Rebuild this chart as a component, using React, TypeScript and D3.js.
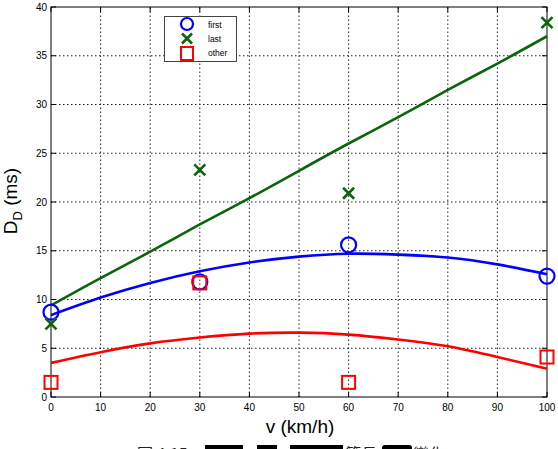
import * as d3 from 'd3';

// speed samples (km/h) and measured delays per packet class
const speeds = [0, 30, 60, 100];
const firstDelay = [8.7, 11.8, 15.6, 12.4];
const lastDelay = [7.5, 23.3, 20.9, 38.4];
const otherDelay = [1.5, 11.7, 1.5, 4.1];

// fitted trend curves, sampled every 10 km/h
const fitSpeeds = [0, 10, 20, 30, 40, 50, 60, 70, 80, 90, 100];
const firstFit = [8.4, 10.2, 11.7, 12.9, 13.8, 14.4, 14.7, 14.6, 14.3, 13.6, 12.6];
const lastFit = [9.4, 12.2, 14.9, 17.7, 20.4, 23.2, 26.0, 28.7, 31.5, 34.2, 37.0];
const otherFit = [3.5, 4.6, 5.5, 6.1, 6.5, 6.6, 6.4, 5.9, 5.2, 4.1, 2.9];

const xTicks = [0, 10, 20, 30, 40, 50, 60, 70, 80, 90, 100];
const yTicks = [0, 5, 10, 15, 20, 25, 30, 35, 40];
const legendLabels = ['first', 'last', 'other'];

const BLUE = '#0000ff';
const GREEN = '#0b650b';
const RED = '#ff0000';
const FONT = '"Liberation Sans", Arial, Helvetica, sans-serif';

const width = 558;
const height = 449;
const margin = { top: 7, right: 11, bottom: 52, left: 51 };

export default function App() {
  const x = d3.scaleLinear().domain([0, 100]).range([margin.left, width - margin.right]);
  const y = d3.scaleLinear().domain([0, 40]).range([height - margin.bottom, margin.top]);
  const x0 = x(0);
  const x1 = x(100);
  const y0 = y(0);
  const y1 = y(40);

  const fitLine = d3
    .line<[number, number]>()
    .x((d) => x(d[0]))
    .y((d) => y(d[1]))
    .curve(d3.curveNatural);
  const pairs = (vals: number[]) => fitSpeeds.map((s, i) => [s, vals[i]] as [number, number]);

  const cross = (cx: number, cy: number, r: number, color: string, w: number, key: string) => (
    <g key={key} stroke={color} strokeWidth={w} strokeLinecap="butt">
      <line x1={cx - r} y1={cy - r} x2={cx + r} y2={cy + r} />
      <line x1={cx - r} y1={cy + r} x2={cx + r} y2={cy - r} />
    </g>
  );

  const gridDash = '1.5 2.5';

  return (
    <svg
      width={width}
      height={height}
      style={{ position: 'absolute', left: 0, top: 0, background: '#fff' }}
      fontFamily={FONT}
    >
      <rect x={0} y={0} width={width} height={height} fill="#fff" />

      {/* grid */}
      {xTicks.slice(1, -1).map((t) => (
        <line key={`gx-${t}`} x1={x(t)} x2={x(t)} y1={y0} y2={y1} stroke="#222" strokeWidth={1} strokeDasharray={gridDash} />
      ))}
      {yTicks.slice(1, -1).map((t) => (
        <line key={`gy-${t}`} x1={x0} x2={x1} y1={y(t)} y2={y(t)} stroke="#222" strokeWidth={1} strokeDasharray={gridDash} />
      ))}

      {/* axes box with inward ticks */}
      <rect x={x0} y={y1} width={x1 - x0} height={y0 - y1} fill="none" stroke="#000" strokeWidth={1} />
      {xTicks.map((t) => (
        <g key={`tx-${t}`} stroke="#000">
          <line x1={x(t)} x2={x(t)} y1={y0} y2={y0 - 5} />
          <line x1={x(t)} x2={x(t)} y1={y1} y2={y1 + 5} />
        </g>
      ))}
      {yTicks.map((t) => (
        <g key={`ty-${t}`} stroke="#000">
          <line x1={x0} x2={x0 + 5} y1={y(t)} y2={y(t)} />
          <line x1={x1} x2={x1 - 5} y1={y(t)} y2={y(t)} />
        </g>
      ))}
      {xTicks.map((t) => (
        <text key={`lx-${t}`} x={x(t)} y={y0 + 14} textAnchor="middle" fontSize={10}>
          {t}
        </text>
      ))}
      {yTicks.map((t) => (
        <text key={`ly-${t}`} x={x0 - 4} y={y(t) + 3.5} textAnchor="end" fontSize={10}>
          {t}
        </text>
      ))}

      {/* fitted curves */}
      <path d={fitLine(pairs(lastFit)) ?? undefined} fill="none" stroke={GREEN} strokeWidth={2.6} />
      <path d={fitLine(pairs(firstFit)) ?? undefined} fill="none" stroke={BLUE} strokeWidth={2.6} />
      <path d={fitLine(pairs(otherFit)) ?? undefined} fill="none" stroke={RED} strokeWidth={2.6} />

      {/* measured points */}
      {speeds.map((s, i) => (
        <circle key={`c-${s}`} cx={x(s)} cy={y(firstDelay[i])} r={7.5} fill="none" stroke={BLUE} strokeWidth={2.2} />
      ))}
      {speeds.map((s, i) => cross(x(s), y(lastDelay[i]), 5.5, GREEN, 2.6, `x-${s}`))}
      {speeds.map((s, i) => (
        <rect key={`s-${s}`} x={x(s) - 6.5} y={y(otherDelay[i]) - 6.5} width={13} height={13} fill="none" stroke={RED} strokeWidth={2} />
      ))}

      {/* legend */}
      <g>
        <rect x={164.5} y={16.5} width={72} height={45} fill="#fff" stroke="#444" strokeWidth={1} />
        <circle cx={187} cy={24} r={6} fill="none" stroke={BLUE} strokeWidth={2.2} />
        {cross(187, 38.5, 5, GREEN, 2.6, 'lg-x')}
        <rect x={181} y={47} width={12} height={13} fill="none" stroke={RED} strokeWidth={2} />
        {legendLabels.map((label, i) => (
          <text key={label} x={208} y={28 + i * 14} fontSize={8.5}>
            {label}
          </text>
        ))}
      </g>

      {/* axis titles */}
      <text x={300} y={433} textAnchor="middle" fontSize={19}>
        v (km/h)
      </text>
      <text transform="translate(17,201) rotate(-90)" textAnchor="middle" fontSize={19}>
        D
        <tspan fontSize={13} dy={5}>D</tspan>
        <tspan dy={-5}> (ms)</tspan>
      </text>

      {/* caption, partly masked */}
      <g fontFamily='"Noto Sans CJK TC", sans-serif' fontSize={16} fill="#222">
        <text x={137} y={460}>圖 4.15</text>
        <rect x={205} y={445} width={38} height={6} fill="#000" />
        <rect x={257} y={445} width={20} height={6} fill="#000" />
        <rect x={290} y={445} width={53} height={6} fill="#000" />
        <text x={345} y={460}>節長</text>
        <rect x={382} y={445} width={30} height={6} rx={3} fill="#000" />
        <text x={413} y={460}>變化</text>
      </g>
    </svg>
  );
}
